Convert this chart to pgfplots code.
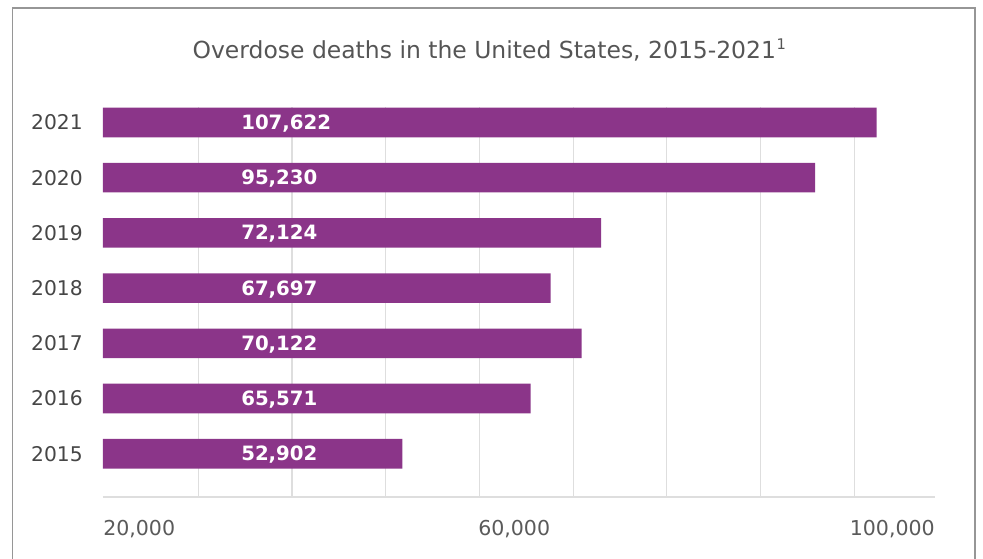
\documentclass[border=0pt]{standalone}
\usepackage{pgfplots}
\pgfplotsset{compat=1.18}
\usepackage{fontspec}
\setmainfont{DejaVu Sans}
\definecolor{barpurple}{RGB}{139,53,137}
\definecolor{titlegray}{RGB}{85,85,85}
\definecolor{yeargray}{RGB}{70,70,70}
\definecolor{tickgray}{RGB}{90,90,90}
\definecolor{gridgray}{RGB}{222,222,222}
\definecolor{framegray}{RGB}{150,150,150}
\begin{document}
\begin{tikzpicture}
\useasboundingbox (0,0) rectangle (737.25pt,419.25pt);
% frame (px -> 0.75pt)
\draw[framegray, line width=1pt] (9.5pt,-2pt) -- (9.5pt,413.25pt) -- (731.25pt,413.25pt) -- (731.25pt,-2pt);
% title
\node[anchor=base, inner sep=0pt, text=titlegray, font=\fontsize{17.6}{20}\selectfont] at (367pt,375pt)
  {Overdose deaths in the United States, 2015-2021\kern0.5pt\raisebox{0.42em}{\fontsize{11}{12}\selectfont 1}};
\begin{axis}[
  at={(77.25pt,46.5pt)}, anchor=south west,
  scale only axis, width=624pt, height=292.5pt,
  xmin=19830, xmax=108620, ymin=-0.784, ymax=6.281,
  axis line style={draw=none},
  scaled x ticks=false,
  xtick={30000,40000,50000,60000,70000,80000,90000,100000},
  xticklabels={},
  ytick={0,1,2,3,4,5,6},
  yticklabels={2015,2016,2017,2018,2019,2020,2021},
  major tick length=0pt,
  tick style={draw=none},
  xmajorgrids,
  grid style={gridgray, line width=0.9pt},
  yticklabel style={font=\fontsize{15.2}{18}\selectfont, text=yeargray, inner sep=0pt, anchor=east, xshift=-15pt},
  clip=false,
]
\addplot[xbar, bar width=22.2pt, fill=barpurple, draw=none] coordinates {
  (51771,0) (65474,1) (70916,2) (67608,3) (72976,4) (95814,5) (102400,6)
};
\draw[gridgray, line width=0.9pt] (rel axis cs:0,0) -- (rel axis cs:1,0);
\begin{scope}[every node/.style={anchor=base west, inner sep=0pt, text=white, yshift=-5.3pt, font=\fontsize{14.8}{17}\selectfont\bfseries}]
\node at (axis cs:34557,6) {107,622};
\node at (axis cs:34557,5) {95,230};
\node at (axis cs:34557,4) {72,124};
\node at (axis cs:34557,3) {67,697};
\node at (axis cs:34557,2) {70,122};
\node at (axis cs:34557,1) {65,571};
\node at (axis cs:34557,0) {52,902};
\end{scope}
\begin{scope}[every node/.style={inner sep=0pt, text=tickgray, yshift=-29.25pt, font=\fontsize{15.4}{18}\selectfont}]
\node[anchor=base west] at (rel axis cs:0,0) {20,000};
\node[anchor=base west] at (rel axis cs:0.4507,0) {60,000};
\node[anchor=base east] at (rel axis cs:1,0) {100,000};
\end{scope}
\end{axis}
\end{tikzpicture}
\end{document}
